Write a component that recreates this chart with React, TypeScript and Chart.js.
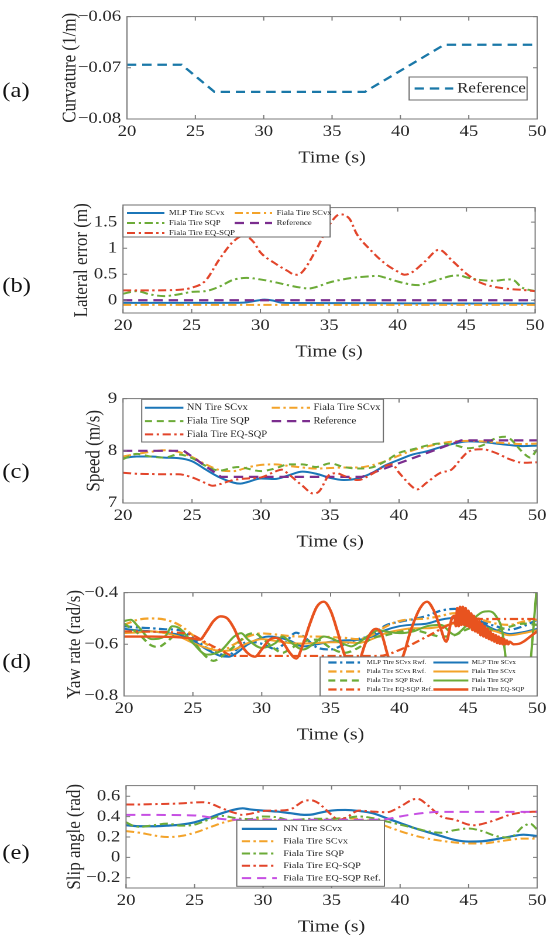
import React, { useEffect, useRef } from "react";
import { Chart, registerables } from "chart.js";

Chart.register(...registerables);

type Pt = [number, number];

// ---- data: [time (s), value] ----
const timeTicks = [20, 25, 30, 35, 40, 45, 50];

// (a) curvature
const curvTicks = [-0.08, -0.07, -0.06];
const curvRef: Pt[] = [[20, -0.0694], [24, -0.0694], [26.4, -0.0747], [37.4, -0.0747], [43.2, -0.0655], [50, -0.0655]];

// (b) lateral error
const latTicks = [0, 0.5, 1, 1.5];
const latMlp: Pt[] = [[20, -0.05], [25, -0.05], [28, -0.05], [29, -0.04], [29.8, -0.005], [30.3, 0.012], [30.9, -0.005], [31.5, -0.045], [32, -0.052], [36, -0.055], [40, -0.06], [45, -0.062], [50, -0.062]];
const latFiala: Pt[] = [[20, -0.088], [30, -0.088], [40, -0.09], [50, -0.09]];
const latSqp: Pt[] = [[20, 0.125], [21, 0.175], [22, 0.11], [23, 0.08], [24, 0.11], [25, 0.16], [26, 0.175], [27, 0.26], [28, 0.39], [29, 0.43], [30, 0.4], [31, 0.35], [32, 0.29], [33, 0.24], [33.5, 0.225], [34, 0.25], [35, 0.34], [36, 0.4], [37, 0.44], [38, 0.46], [38.5, 0.47], [39, 0.44], [40, 0.36], [41, 0.3], [41.5, 0.29], [42, 0.32], [43, 0.4], [44, 0.47], [44.5, 0.475], [45, 0.44], [46, 0.39], [47, 0.375], [48, 0.4], [48.5, 0.375], [49, 0.25], [50, 0.175]];
const latRef: Pt[] = [[20, 0], [50, 0]];
const latEq: Pt[] = [[20, 0.19], [22, 0.19], [24, 0.2], [25, 0.24], [26, 0.375], [27, 0.78], [28, 1.12], [28.8, 1.24], [29.5, 1.12], [30, 0.92], [31, 0.72], [32, 0.56], [32.5, 0.49], [33, 0.53], [34, 0.94], [35, 1.44], [35.8, 1.65], [36.5, 1.56], [37, 1.28], [38, 0.97], [39, 0.72], [40, 0.55], [40.5, 0.49], [41, 0.53], [42, 0.75], [43, 0.97], [44, 0.75], [45, 0.51], [46, 0.34], [47, 0.26], [48, 0.22], [49, 0.2], [50, 0.175]];

// (c) speed
const spdTicks = [7, 8, 9];
const spdNN: Pt[] = [[20, 7.86], [21, 7.89], [22, 7.89], [23, 7.87], [24, 7.86], [25, 7.8], [26, 7.64], [27, 7.49], [28, 7.39], [28.5, 7.37], [29, 7.4], [30, 7.47], [31, 7.46], [32, 7.53], [33, 7.6], [34, 7.56], [35, 7.48], [36, 7.44], [37, 7.47], [38, 7.57], [39, 7.72], [40, 7.83], [41, 7.93], [42, 7.99], [43, 8.07], [44, 8.14], [45, 8.18], [46, 8.17], [47, 8.14], [48, 8.11], [49, 8.09], [50, 8.1]];
const spdFiala: Pt[] = [[20, 7.89], [21, 7.94], [22, 7.98], [23, 8.01], [24, 7.98], [25, 7.88], [26, 7.74], [27, 7.63], [28, 7.61], [29, 7.68], [30, 7.73], [31, 7.74], [32, 7.71], [33, 7.68], [34, 7.66], [35, 7.67], [36, 7.68], [37, 7.68], [38, 7.72], [39, 7.8], [40, 7.91], [41, 8.01], [42, 8.08], [43, 8.14], [44, 8.18], [45, 8.19], [46, 8.18], [47, 8.16], [48, 8.14], [49, 8.13], [50, 8.14]];
const spdSqp: Pt[] = [[20, 7.84], [21, 7.94], [22, 7.89], [23, 7.87], [24, 7.93], [25, 7.86], [26, 7.71], [27, 7.62], [28, 7.68], [28.5, 7.69], [29, 7.66], [30, 7.61], [31, 7.66], [32, 7.74], [33, 7.74], [34, 7.69], [35, 7.76], [36, 7.69], [37, 7.66], [38, 7.68], [39, 7.8], [40, 7.96], [41, 8.03], [42, 8.1], [43, 8.14], [44, 8.11], [45, 8.05], [46, 8.1], [47, 8.24], [47.7, 8.27], [48, 8.24], [49, 7.96], [49.5, 7.87], [50, 8.03]];
const spdRef: Pt[] = [[20, 8], [24.4, 8], [27.1, 7.5], [37.3, 7.5], [44.5, 8.2], [50, 8.2]];
const spdEq: Pt[] = [[20, 7.58], [21, 7.56], [22, 7.555], [23, 7.55], [24, 7.55], [25, 7.49], [26, 7.38], [26.5, 7.33], [27, 7.36], [28, 7.44], [29, 7.47], [30, 7.49], [31, 7.6], [31.5, 7.64], [32, 7.55], [33, 7.33], [33.8, 7.18], [34.2, 7.22], [35, 7.55], [35.5, 7.57], [36, 7.52], [37, 7.44], [38, 7.55], [39, 7.71], [39.5, 7.74], [40, 7.58], [41, 7.3], [41.3, 7.26], [42, 7.39], [43, 7.58], [43.8, 7.64], [44.5, 7.85], [45, 7.98], [46, 8.03], [47, 7.96], [48, 7.84], [49, 7.77], [50, 7.78]];

// (d) yaw rate
const yawTicks = [-0.8, -0.6, -0.4];
const yawMlpRwf: Pt[] = [[20, -0.53], [21, -0.535], [22, -0.538], [23, -0.542], [24, -0.545], [25, -0.575], [26, -0.614], [27, -0.638], [27.5, -0.645], [28, -0.628], [29, -0.59], [30, -0.598], [31, -0.618], [31.6, -0.6], [32.5, -0.555], [33, -0.568], [34, -0.612], [35, -0.62], [36, -0.6], [37, -0.58], [38, -0.565], [39, -0.527], [40, -0.513], [41, -0.503], [42, -0.49], [43, -0.47], [44, -0.463], [45, -0.48], [46, -0.513], [47, -0.53], [48, -0.543], [49, -0.53], [50, -0.505]];
const yawMlp: Pt[] = [[20, -0.54], [21, -0.546], [22, -0.55], [23, -0.556], [24, -0.563], [25, -0.585], [26, -0.62], [27, -0.645], [27.6, -0.648], [28, -0.64], [29, -0.6], [30, -0.575], [30.5, -0.57], [31, -0.572], [32, -0.585], [33, -0.608], [34, -0.6], [35, -0.59], [36, -0.585], [37, -0.583], [38, -0.57], [39, -0.545], [40, -0.53], [41, -0.524], [42, -0.52], [43, -0.505], [44, -0.498], [45, -0.505], [46, -0.52], [47, -0.545], [48, -0.56], [49, -0.553], [50, -0.54]];
const yawFialaRwf: Pt[] = [[20, -0.525], [21, -0.505], [22, -0.5], [23, -0.505], [24, -0.525], [25, -0.565], [26, -0.6], [27, -0.626], [28, -0.6], [29, -0.57], [30, -0.558], [31, -0.562], [32, -0.568], [33, -0.57], [34, -0.57], [35, -0.572], [36, -0.575], [37, -0.58], [38, -0.565], [39, -0.532], [40, -0.51], [41, -0.503], [42, -0.5], [43, -0.49], [44, -0.48], [45, -0.487], [46, -0.505], [47, -0.52], [48, -0.525], [49, -0.512], [50, -0.505]];
const yawFiala: Pt[] = [[20, -0.557], [21, -0.554], [22, -0.55], [23, -0.557], [24, -0.57], [25, -0.595], [26, -0.614], [27, -0.626], [28, -0.62], [29, -0.595], [30, -0.58], [31, -0.587], [32, -0.595], [33, -0.597], [34, -0.595], [35, -0.592], [36, -0.592], [37, -0.595], [38, -0.58], [39, -0.557], [40, -0.545], [41, -0.538], [42, -0.538], [43, -0.532], [44, -0.52], [45, -0.525], [46, -0.538], [47, -0.55], [48, -0.565], [49, -0.557], [50, -0.545]];
const yawSqpRwf: Pt[] = [[20, -0.52], [21, -0.557], [22, -0.605], [22.5, -0.61], [23, -0.595], [24, -0.557], [25, -0.59], [26, -0.65], [26.5, -0.664], [27, -0.65], [28, -0.608], [29, -0.562], [29.5, -0.557], [30, -0.575], [31, -0.62], [31.5, -0.633], [32, -0.62], [33, -0.59], [34, -0.582], [35, -0.614], [36, -0.633], [37, -0.614], [38, -0.577], [39, -0.565], [40, -0.552], [41, -0.545], [42, -0.557], [43, -0.57], [44, -0.565], [45, -0.54], [46, -0.532], [47, -0.545], [48, -0.532], [49, -0.52], [50, -0.525]];
const yawSqp: Pt[] = [[20, -0.51], [20.5, -0.505], [21, -0.53], [22, -0.58], [23, -0.568], [23.5, -0.53], [24, -0.537], [25, -0.595], [26, -0.64], [27, -0.626], [28, -0.57], [28.5, -0.557], [29, -0.582], [30, -0.614], [31, -0.595], [31.5, -0.57], [32, -0.588], [33, -0.62], [34, -0.588], [34.5, -0.57], [35, -0.576], [36, -0.6], [36.5, -0.608], [37, -0.595], [38, -0.557], [38.5, -0.545], [39, -0.55], [40, -0.557], [41, -0.55], [42, -0.53], [43, -0.525], [44, -0.563], [45, -0.52], [46, -0.476], [46.5, -0.472], [47, -0.49], [47.5, -0.56], [47.8, -0.7], [48.1, -0.86], [49.2, -0.86], [49.6, -0.62], [50, -0.36]];
const yawEqRef: Pt[] = [[20, -0.55], [24, -0.555], [25, -0.565], [26, -0.595], [27, -0.622], [28, -0.645], [38.5, -0.645], [40, -0.622], [42, -0.57], [44, -0.515], [45, -0.502], [50, -0.502]];
const yawEq: Pt[] = [[20, -0.57], [22, -0.57], [24, -0.573], [25, -0.578], [25.5, -0.582], [26, -0.55], [26.5, -0.51], [27, -0.492], [27.5, -0.5], [28, -0.54], [28.5, -0.6], [29, -0.635], [29.5, -0.648], [30, -0.62], [30.5, -0.585], [31, -0.575], [31.5, -0.59], [32, -0.63], [32.5, -0.655], [33, -0.6], [33.5, -0.52], [34, -0.455], [34.5, -0.435], [35, -0.47], [35.5, -0.55], [36, -0.64], [36.5, -0.7], [37, -0.68], [37.5, -0.6], [38, -0.55], [38.3, -0.54], [38.7, -0.56], [39.2, -0.65], [39.7, -0.7], [40.3, -0.64], [40.8, -0.55], [41.5, -0.46], [42, -0.435], [42.5, -0.47], [43, -0.54], [43.4, -0.59], [43.8, -0.5],
  [44.0, -0.49], [44.1, -0.53], [44.2, -0.46], [44.3, -0.53], [44.4, -0.455], [44.5, -0.525], [44.6, -0.455], [44.7, -0.525], [44.8, -0.46], [44.9, -0.53], [45.0, -0.47], [45.1, -0.535], [45.2, -0.48], [45.3, -0.545], [45.4, -0.49], [45.5, -0.55], [45.6, -0.5], [45.7, -0.555], [45.8, -0.51], [45.9, -0.565], [46.0, -0.52], [46.1, -0.57], [46.2, -0.53], [46.3, -0.575], [46.4, -0.54], [46.5, -0.58], [46.6, -0.55], [46.7, -0.585], [46.8, -0.56], [46.9, -0.59], [47.0, -0.565], [47.1, -0.595], [47.2, -0.57], [47.3, -0.598], [47.4, -0.575], [47.5, -0.6], [47.6, -0.58], [47.7, -0.6], [47.8, -0.585], [47.9, -0.6], [48.0, -0.59],
  [48.3, -0.6], [48.7, -0.598], [49, -0.59], [49.5, -0.57], [50, -0.55]];

// (e) slip angle
const slipTicks = [-0.2, 0, 0.2, 0.4, 0.6];
const slipNN: Pt[] = [[20, 0.316], [21, 0.306], [22, 0.306], [23, 0.312], [24, 0.322], [25, 0.345], [26, 0.386], [27, 0.434], [28, 0.472], [28.5, 0.482], [29, 0.472], [30, 0.46], [31, 0.45], [32, 0.434], [33, 0.418], [33.5, 0.42], [34, 0.434], [35, 0.46], [36, 0.466], [37, 0.456], [38, 0.434], [39, 0.386], [40, 0.338], [41, 0.29], [42, 0.249], [43, 0.21], [44, 0.172], [45, 0.156], [46, 0.159], [47, 0.179], [48, 0.204], [49, 0.223], [50, 0.21]];
const slipFiala: Pt[] = [[20, 0.258], [21, 0.242], [22, 0.217], [23, 0.2], [24, 0.21], [25, 0.242], [26, 0.29], [27, 0.338], [28, 0.37], [29, 0.376], [30, 0.376], [31, 0.363], [32, 0.354], [33, 0.354], [34, 0.363], [35, 0.376], [36, 0.386], [37, 0.376], [38, 0.354], [39, 0.306], [40, 0.258], [41, 0.217], [42, 0.185], [43, 0.163], [44, 0.147], [45, 0.137], [46, 0.137], [47, 0.153], [48, 0.172], [49, 0.185], [50, 0.185]];
const slipSqp: Pt[] = [[20, 0.345], [20.5, 0.312], [21, 0.3], [22, 0.316], [23, 0.332], [24, 0.312], [25, 0.322], [26, 0.37], [27, 0.408], [28, 0.386], [29, 0.376], [30, 0.402], [31, 0.395], [32, 0.363], [33, 0.376], [34, 0.38], [35, 0.38], [36, 0.386], [37, 0.402], [38, 0.386], [39, 0.354], [40, 0.322], [41, 0.29], [42, 0.258], [43, 0.242], [44, 0.268], [45, 0.284], [46, 0.258], [47, 0.21], [48, 0.195], [49, 0.306], [49.5, 0.33], [50, 0.274]];
const slipEq: Pt[] = [[20, 0.52], [21, 0.52], [22, 0.523], [23, 0.526], [24, 0.53], [25, 0.539], [25.5, 0.542], [26, 0.536], [27, 0.482], [28, 0.434], [28.5, 0.418], [29, 0.427], [30, 0.456], [31, 0.46], [32, 0.472], [32.5, 0.514], [33, 0.555], [33.5, 0.561], [34, 0.536], [35, 0.418], [35.5, 0.37], [36, 0.386], [37, 0.46], [38, 0.45], [39, 0.443], [40, 0.498], [41, 0.571], [41.3, 0.574], [42, 0.514], [43, 0.402], [44, 0.37], [45, 0.322], [45.5, 0.316], [46, 0.329], [47, 0.37], [48, 0.418], [49, 0.443], [50, 0.45]];
const slipEqRef: Pt[] = [[20, 0.418], [25, 0.412], [26, 0.396], [27, 0.377], [28, 0.37], [38, 0.37], [39, 0.376], [40, 0.402], [41, 0.424], [42, 0.44], [43, 0.447], [50, 0.447]];

// ---- styling ----
const SERIF = "'Liberation Serif', 'Times New Roman', serif";
const BASE_W = 470; // drawn narrow, stretched to 550 like the source figure
const STRETCH = 550 / BASE_W;
const TOP_PAD = 12;
const X_AXIS_H = 52;

const BLUE = "#1b76b8";
const ORANGE = "#f3a32a";
const GREEN = "#6cab38";
const RED = "#e2452b";
const RED2 = "#e8531f";
const PURPLE = "#7b2d8e";
const MAGENTA = "#c64fe3";

const DASH = [6, 4];
const DASHDOT = [7, 3, 2, 3];
const LONGDASH = [8, 5];

type Series = { label: string; data: Pt[]; color: string; dash: number[]; width: number; straight?: boolean };
type LegendSpec = { x: number; y: number; w: number; h: number; cols: number; colStep: number; row0: number; rowStep: number; sampleX: number; sampleLen: number; textX: number; size: number };
type PanelSpec = {
  letter: string; letterY: number; plotTop: number; plotBottom: number; left: number; right: number;
  yMin: number; yMax: number; yTicks: number[]; yTitle: string; yTitleCenter: number;
  series: Series[]; legend: LegendSpec;
};

const panels: PanelSpec[] = [
  {
    letter: "(a)", letterY: 90, plotTop: 14, plotBottom: 119, left: 108.5, right: 459,
    yMin: -0.08, yMax: -0.06, yTicks: curvTicks, yTitle: "Curvature (1/m)", yTitleCenter: 59.8,
    series: [{ label: "Reference", data: curvRef, color: "#1a78a8", dash: [8, 5], width: 2.2, straight: true }],
    legend: { x: 349.6, y: 75, w: 100.8, h: 23, cols: 1, colStep: 0, row0: 11.5, rowStep: 0, sampleX: 4.7, sampleLen: 33, textX: 41, size: 14.5 },
  },
  {
    letter: "(b)", letterY: 285, plotTop: 205, plotBottom: 313, left: 105.1, right: 457.3,
    yMin: -0.245, yMax: 1.78, yTicks: latTicks, yTitle: "Lateral error (m)", yTitleCenter: 70.1,
    series: [
      { label: "MLP Tire SCvx", data: latMlp, color: BLUE, dash: [], width: 2 },
      { label: "Fiala Tire SCvx", data: latFiala, color: ORANGE, dash: DASHDOT, width: 2 },
      { label: "Fiala Tire SQP", data: latSqp, color: GREEN, dash: DASHDOT, width: 2 },
      { label: "Reference", data: latRef, color: PURPLE, dash: LONGDASH, width: 2.2, straight: true },
      { label: "Fiala Tire EQ-SQP", data: latEq, color: RED, dash: DASHDOT, width: 2 },
    ],
    legend: { x: 105.1, y: 12, w: 177, h: 32, cols: 2, colStep: 92, row0: 8, rowStep: 10, sampleX: 3.4, sampleLen: 32, textX: 39.3, size: 7.4 },
  },
  {
    letter: "(c)", letterY: 470.7, plotTop: 396, plotBottom: 503, left: 105.1, right: 459,
    yMin: 7, yMax: 9, yTicks: spdTicks, yTitle: "Speed (m/s)", yTitleCenter: 80.3,
    series: [
      { label: "NN Tire SCvx", data: spdNN, color: BLUE, dash: [], width: 2 },
      { label: "Fiala Tire SCvx", data: spdFiala, color: ORANGE, dash: DASHDOT, width: 2 },
      { label: "Fiala Tire SQP", data: spdSqp, color: GREEN, dash: DASH, width: 2 },
      { label: "Reference", data: spdRef, color: PURPLE, dash: LONGDASH, width: 2.2, straight: true },
      { label: "Fiala Tire EQ-SQP", data: spdEq, color: RED, dash: DASHDOT, width: 2 },
    ],
    legend: { x: 121.1, y: 15.3, w: 206.5, h: 42.7, cols: 2, colStep: 108.3, row0: 8.5, rowStep: 13.3, sampleX: 2.8, sampleLen: 32.8, textX: 38.5, size: 9 },
  },
  {
    letter: "(d)", letterY: 660.7, plotTop: 590, plotBottom: 696, left: 106, right: 459,
    yMin: -0.8, yMax: -0.4, yTicks: yawTicks, yTitle: "Yaw rate (rad/s)", yTitleCenter: 64.1,
    series: [
      { label: "MLP Tire SCvx Rwf.", data: yawMlpRwf, color: BLUE, dash: DASHDOT, width: 2.2 },
      { label: "MLP Tire SCvx", data: yawMlp, color: BLUE, dash: [], width: 2 },
      { label: "Fiala Tire SCvx Rwf.", data: yawFialaRwf, color: ORANGE, dash: DASHDOT, width: 2.2 },
      { label: "Fiala Tire SCvx", data: yawFiala, color: ORANGE, dash: [], width: 2 },
      { label: "Fiala Tire SQP Rwf.", data: yawSqpRwf, color: GREEN, dash: DASH, width: 2.2 },
      { label: "Fiala Tire SQP", data: yawSqp, color: GREEN, dash: [], width: 2 },
      { label: "Fiala Tire EQ-SQP Ref.", data: yawEqRef, color: RED2, dash: DASHDOT, width: 2.2 },
      { label: "Fiala Tire EQ-SQP", data: yawEq, color: RED2, dash: [], width: 2.4 },
    ],
    legend: { x: 273.5, y: 79, w: 185.5, h: 39, cols: 2, colStep: 89.7, row0: 5.5, rowStep: 9, sampleX: 7.1, sampleLen: 29.9, textX: 39.9, size: 5.9 },
  },
  {
    letter: "(e)", letterY: 851.7, plotTop: 783, plotBottom: 888, left: 107.7, right: 459,
    yMin: -0.3, yMax: 0.705, yTicks: slipTicks, yTitle: "Slip angle (rad)", yTitleCenter: 64.1,
    series: [
      { label: "NN Tire SCvx", data: slipNN, color: BLUE, dash: [], width: 2.2 },
      { label: "Fiala Tire SCvx", data: slipFiala, color: ORANGE, dash: DASHDOT, width: 2 },
      { label: "Fiala Tire SQP", data: slipSqp, color: GREEN, dash: DASHDOT, width: 2 },
      { label: "Fiala Tire EQ-SQP", data: slipEq, color: RED, dash: DASHDOT, width: 2 },
      { label: "Fiala Tire EQ-SQP Ref.", data: slipEqRef, color: MAGENTA, dash: LONGDASH, width: 2 },
    ],
    legend: { x: 202.3, y: 49.3, w: 126.2, h: 66, cols: 1, colStep: 0, row0: 8.6, rowStep: 12.3, sampleX: 4.3, sampleLen: 29.9, textX: 39.8, size: 8.7 },
  },
];

const fmt = (v: number) => (v < 0 ? "\u2212" + String(Math.abs(v)) : String(v));

// box, inward ticks and the matlab-style legend inside the axes
const framePlugin = (series: Series[], lg: LegendSpec) => ({
  id: "frame",
  afterDatasetsDraw(chart: any) {
    const { ctx, chartArea: a } = chart;
    const xs = chart.scales.x;
    const ys = chart.scales.y;
    ctx.save();
    ctx.setLineDash([]);
    ctx.strokeStyle = "#7a7a7a";
    ctx.lineWidth = 1;
    ctx.beginPath();
    xs.ticks.forEach((t: any) => {
      const p = xs.getPixelForValue(t.value);
      ctx.moveTo(p, a.bottom);
      ctx.lineTo(p, a.bottom - 4);
      ctx.moveTo(p, a.top);
      ctx.lineTo(p, a.top + 4);
    });
    ys.ticks.forEach((t: any) => {
      const p = ys.getPixelForValue(t.value);
      ctx.moveTo(a.left, p);
      ctx.lineTo(a.left + 3.5, p);
      ctx.moveTo(a.right, p);
      ctx.lineTo(a.right - 3.5, p);
    });
    ctx.stroke();
    ctx.strokeRect(a.left, a.top, a.right - a.left, a.bottom - a.top);

    ctx.fillStyle = "#ffffff";
    ctx.fillRect(lg.x, lg.y, lg.w, lg.h);
    ctx.strokeStyle = "#6f6f6f";
    ctx.strokeRect(lg.x, lg.y, lg.w, lg.h);
    ctx.font = `${lg.size}px ${SERIF}`;
    ctx.textBaseline = "middle";
    ctx.textAlign = "left";
    series.forEach((s, i) => {
      const col = i % lg.cols;
      const row = Math.floor(i / lg.cols);
      const y = lg.y + lg.row0 + row * lg.rowStep;
      const x0 = lg.x + lg.sampleX + col * lg.colStep;
      ctx.strokeStyle = s.color;
      ctx.lineWidth = s.width;
      ctx.setLineDash(s.dash);
      ctx.beginPath();
      ctx.moveTo(x0, y);
      ctx.lineTo(x0 + lg.sampleLen, y);
      ctx.stroke();
      ctx.setLineDash([]);
      ctx.fillStyle = "#262626";
      ctx.fillText(s.label, lg.x + lg.textX + col * lg.colStep, y);
    });
    ctx.restore();
  },
});

const Panel = ({ spec }: { spec: PanelSpec }) => {
  const chartRef = useRef<HTMLCanvasElement | null>(null);
  const height = spec.plotBottom - spec.plotTop + TOP_PAD + X_AXIS_H;

  useEffect(() => {
    if (!chartRef.current) return;

    const chart = new Chart(chartRef.current, {
      type: "line",
      data: {
        datasets: spec.series.map((s, i) => ({
          label: s.label,
          data: s.data.map(([x, y]) => ({ x, y })),
          borderColor: s.color,
          backgroundColor: s.color,
          borderDash: s.dash,
          borderWidth: s.width,
          pointRadius: 0,
          fill: false,
          tension: s.straight ? 0 : 0.3,
          cubicInterpolationMode: s.straight ? "default" : "monotone",
          order: -i, // later series on top, like matlab
        })),
      },
      options: {
        animation: false,
        responsive: false,
        devicePixelRatio: 2,
        events: [],
        layout: { padding: { top: TOP_PAD, right: BASE_W - spec.right, left: 0, bottom: 0 } },
        plugins: { legend: { display: false }, tooltip: { enabled: false } },
        scales: {
          x: {
            type: "linear",
            min: 20,
            max: 50,
            afterBuildTicks: (s: any) => { s.ticks = timeTicks.map((v) => ({ value: v })); },
            afterFit: (s: any) => { s.height = X_AXIS_H; },
            grid: { display: false, drawTicks: false, tickLength: 0 },
            border: { display: false },
            ticks: {
              autoSkip: false,
              maxRotation: 0,
              padding: 3,
              color: "#262626",
              font: { family: SERIF, size: 16, lineHeight: 1.2 },
              callback: (v: any) => fmt(Number(v)),
            },
            title: {
              display: true,
              text: "Time (s)",
              color: "#262626",
              font: { family: SERIF, size: 17, lineHeight: 1.2 },
              padding: { top: 0, bottom: 3 },
            },
          },
          y: {
            type: "linear",
            min: spec.yMin,
            max: spec.yMax,
            afterBuildTicks: (s: any) => { s.ticks = spec.yTicks.map((v) => ({ value: v })); },
            afterFit: (s: any) => { s.width = spec.left; },
            grid: { display: false, drawTicks: false, tickLength: 0 },
            border: { display: false },
            ticks: {
              padding: 5,
              color: "#262626",
              font: { family: SERIF, size: 16, lineHeight: 1.2 },
              callback: (v: any) => fmt(Number(v)),
            },
            title: {
              display: true,
              text: spec.yTitle,
              color: "#262626",
              font: { family: SERIF, size: 17, lineHeight: 1.2 },
              padding: { top: spec.yTitleCenter - 10.2, bottom: 0 },
            },
          },
        },
      },
      plugins: [framePlugin(spec.series, spec.legend)],
    } as any);

    return () => {
      chart.destroy();
    };
  }, [spec]);

  return (
    <canvas
      ref={chartRef}
      width={BASE_W}
      height={height}
      style={{ position: "absolute", left: 0, top: spec.plotTop - TOP_PAD, display: "block" }}
    />
  );
};

const App = () => {
  useEffect(() => {
    document.body.style.margin = "0";
  }, []);

  return (
    <div
      style={{
        position: "relative",
        width: BASE_W,
        height: 949,
        transform: `scaleX(${STRETCH})`,
        transformOrigin: "0 0",
        background: "#fff",
        overflow: "hidden",
      }}
    >
      {panels.map((p) => (
        <React.Fragment key={p.letter}>
          <Panel spec={p} />
          <div
            style={{
              position: "absolute",
              left: 2,
              top: p.letterY - 11,
              fontFamily: SERIF,
              fontSize: 21,
              lineHeight: "22px",
              color: "#111",
            }}
          >
            {p.letter}
          </div>
        </React.Fragment>
      ))}
    </div>
  );
};

export default App;
